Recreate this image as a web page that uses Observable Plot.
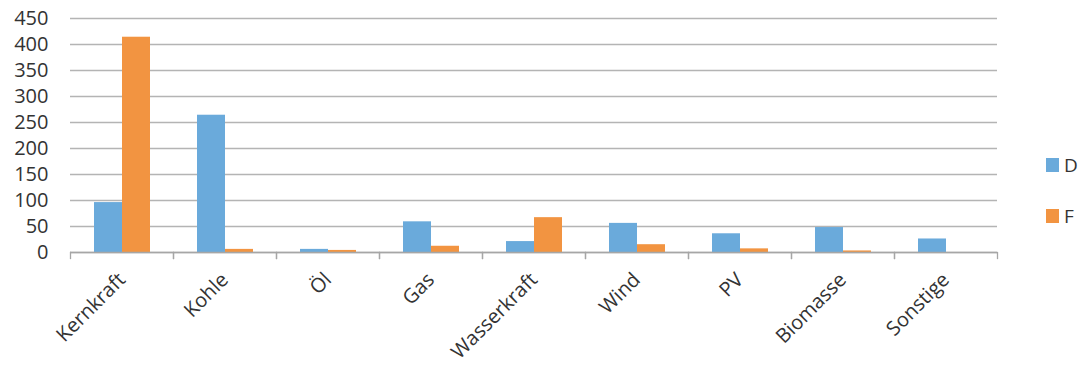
<!DOCTYPE html>
<html>
<head>
<meta charset="utf-8">
<script src="https://cdn.jsdelivr.net/npm/d3@7"></script>
<script src="https://cdn.jsdelivr.net/npm/@observablehq/plot@0.6"></script>
<style>
  html, body { margin: 0; padding: 0; background: #fff; }
  #wrap { position: relative; width: 1078px; height: 370px; overflow: hidden; font-family: "Open Sans", sans-serif; }
  .legend { position: absolute; left: 1046px; font-size: 19px; color: #333; }
  .legend .item { position: absolute; left: 0; white-space: nowrap; display: flex; align-items: center; }
  .legend .sw { width: 13px; height: 14px; margin-right: 5px; }
</style>
</head>
<body>
<div id="wrap"></div>
<script>
const categories = ["Kernkraft", "Kohle", "Öl", "Gas", "Wasserkraft", "Wind", "PV", "Biomasse", "Sonstige"];
const seriesNames = ["D", "F"];
const seriesD = [96, 264, 6, 59, 21, 56, 36, 48, 26];
const seriesF = [414, 6, 4, 12, 67, 15, 7, 3, 0];
const colors = ["#6aaadb", "#f29441"];
const yTicks = [0, 50, 100, 150, 200, 250, 300, 350, 400, 450];

const rows = [];
categories.forEach((c, i) => {
  rows.push({category: c, series: seriesNames[0], value: seriesD[i]});
  rows.push({category: c, series: seriesNames[1], value: seriesF[i]});
});

const axisColor = "#a6a6a6";
const chart = Plot.plot({
  width: 1078,
  height: 370,
  marginLeft: 68,
  marginRight: 79,
  marginTop: 18,
  marginBottom: 118,
  style: {fontFamily: "Open Sans", fontSize: "20px", color: "#333", background: "white", overflow: "visible"},
  fx: {domain: categories, padding: 0, label: null},
  x: {domain: seriesNames, paddingInner: 0, paddingOuter: 0.78, axis: null},
  y: {domain: [0, 450]},
  color: {domain: seriesNames, range: colors},
  marks: [
    Plot.gridY(yTicks, {stroke: "#b4b4b4", strokeOpacity: 1, strokeWidth: 1.5}),
    Plot.frame({anchor: "left", stroke: axisColor, strokeWidth: 1.3, insetTop: 234, insetBottom: -6}),
    Plot.frame({anchor: "right", stroke: axisColor, strokeWidth: 1.3, insetTop: 234, insetBottom: -6}),
    Plot.barY(rows, {fx: "category", x: "series", y: "value", fill: "series"}),
    Plot.ruleY([0], {stroke: axisColor, strokeWidth: 1.5}),
    Plot.axisY(yTicks, {tickSize: 0, tickPadding: 22, label: null, fontSize: 20, fill: "#333"}),
    Plot.axisFx({anchor: "bottom", tickSize: 0, tickPadding: 24, tickRotate: -45, label: null, fontSize: 20, fill: "#333"})
  ]
});

const wrap = document.getElementById("wrap");
wrap.appendChild(chart);

const legend = document.createElement("div");
legend.className = "legend";
legend.style.top = "0px";
const legendTops = [152, 203];
seriesNames.forEach((name, i) => {
  const item = document.createElement("div");
  item.className = "item";
  item.style.top = legendTops[i] + "px";
  const sw = document.createElement("span");
  sw.className = "sw";
  sw.style.background = colors[i];
  const t = document.createElement("span");
  t.textContent = name;
  item.appendChild(sw);
  item.appendChild(t);
  legend.appendChild(item);
});
wrap.appendChild(legend);
</script>
</body>
</html>
